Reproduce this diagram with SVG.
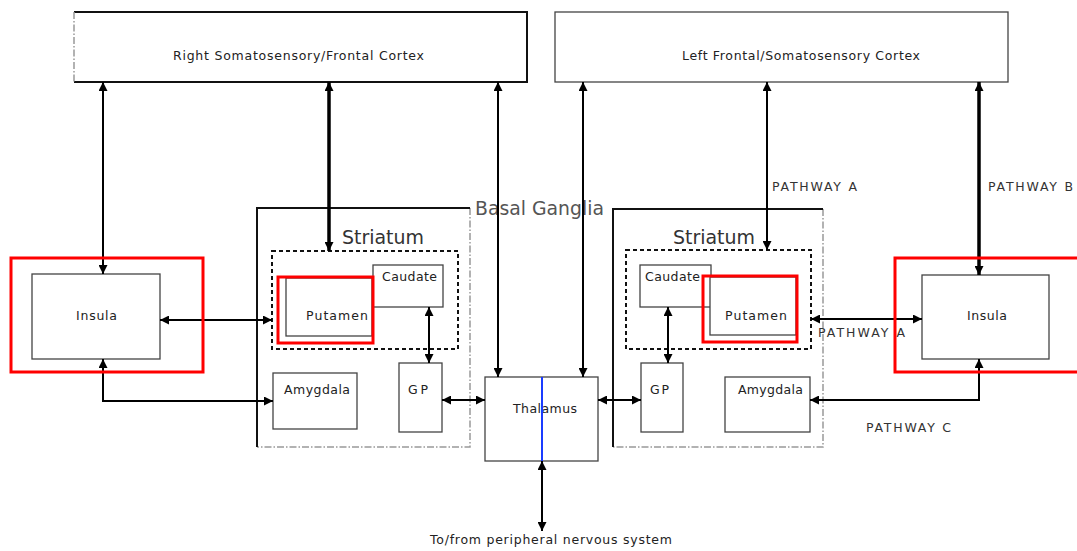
<svg xmlns="http://www.w3.org/2000/svg" width="1077" height="551" viewBox="0 0 1077 551">
<defs>
<marker id="ah" viewBox="0 0 10 10" refX="10" refY="5" markerWidth="9" markerHeight="9" markerUnits="userSpaceOnUse" orient="auto-start-reverse">
<path d="M0,0 L10,5 L0,10 z" fill="#000"/>
</marker>
<style>
text{font-family:"DejaVu Sans","Liberation Sans",sans-serif;fill:#222;}
.s{font-size:12.5px;}
.big{font-size:19px;fill:#333;}
.bg{font-size:19px;fill:#555;}
.pw{font-size:12.5px;fill:#333;}
.box{fill:#fff;stroke:#444;stroke-width:1.3;}
.solid{fill:none;stroke:#111;stroke-width:2;}
.dd{fill:none;stroke:#999;stroke-width:1.5;stroke-dasharray:7,2,1.5,2;}
.dash{fill:none;stroke:#111;stroke-width:2;stroke-dasharray:4,3;}
.red{fill:none;stroke:#ff0000;stroke-width:3;}
.ar{fill:none;stroke:#000;stroke-width:2;marker-start:url(#ah);marker-end:url(#ah);}
.th{stroke-width:3.5;}
</style>
</defs>
<rect width="1077" height="551" fill="#fff"/>

<g id="cortex-right">
<rect x="74" y="12" width="453" height="70" fill="#fff" stroke="none"/>
<path d="M74,12 H527 V82 H74" class="solid"/>
<path d="M74,12 V82" class="dd"/>
<text class="s" x="173" y="60" textLength="251" lengthAdjust="spacing">Right Somatosensory/Frontal Cortex</text>
</g>

<g id="cortex-left">
<rect x="555" y="12" width="453" height="70" class="box" stroke-width="1.6"/>
<text class="s" x="682" y="60" textLength="238" lengthAdjust="spacing">Left Frontal/Somatosensory Cortex</text>
</g>

<g id="basal-ganglia-left">
<path d="M470,208 V447 H257" class="dd"/>
<path d="M257,447 V208 H470" class="solid"/>
</g>
<g id="basal-ganglia-right">
<path d="M823,209 V447 H613" class="dd"/>
<path d="M613,447 V209 H823" class="solid" stroke-width="2.5"/>
</g>
<text id="basal-ganglia-label" class="bg" x="475" y="215" textLength="129" lengthAdjust="spacingAndGlyphs">Basal Ganglia</text>

<g id="striatum-left">
<rect x="272" y="251" width="186" height="98" class="dash"/>
<text class="big" x="342" y="244" textLength="82" lengthAdjust="spacingAndGlyphs">Striatum</text>
</g>
<g id="striatum-right">
<rect x="626" y="250" width="185" height="99" class="dash"/>
<text class="big" x="673" y="244" textLength="82" lengthAdjust="spacingAndGlyphs">Striatum</text>
</g>

<g id="insula-left">
<rect x="32" y="274" width="128" height="85" class="box"/>
<text class="s" x="76" y="320" textLength="41" lengthAdjust="spacing">Insula</text>
</g>
<g id="insula-right">
<rect x="922" y="275" width="127" height="84" class="box"/>
<text class="s" x="967" y="320" textLength="40" lengthAdjust="spacing">Insula</text>
</g>

<g id="caudate-left">
<rect x="373" y="265" width="70" height="42" class="box"/>
<text class="s" x="382" y="281" textLength="55" lengthAdjust="spacing">Caudate</text>
</g>
<g id="caudate-right">
<rect x="640" y="265" width="71" height="42" class="box"/>
<text class="s" x="645" y="281" textLength="55" lengthAdjust="spacing">Caudate</text>
</g>

<g id="putamen-left">
<rect x="286" y="278" width="86" height="58" class="box"/>
<text class="s" x="306" y="320" textLength="62" lengthAdjust="spacing">Putamen</text>
</g>
<g id="putamen-right">
<rect x="710" y="277" width="86" height="58" class="box"/>
<text class="s" x="725" y="320" textLength="62" lengthAdjust="spacing">Putamen</text>
</g>

<g id="amygdala-left">
<rect x="273" y="373" width="84" height="56" class="box"/>
<text class="s" x="284" y="394" textLength="66" lengthAdjust="spacing">Amygdala</text>
</g>
<g id="amygdala-right">
<rect x="725" y="377" width="85" height="55" class="box"/>
<text class="s" x="738" y="394" textLength="65" lengthAdjust="spacing">Amygdala</text>
</g>

<g id="gp-left">
<rect x="399" y="363" width="43" height="69" class="box"/>
<text class="s" x="408" y="394" textLength="20" lengthAdjust="spacing">GP</text>
</g>
<g id="gp-right">
<rect x="641" y="363" width="42" height="69" class="box"/>
<text class="s" x="650" y="394" textLength="19" lengthAdjust="spacing">GP</text>
</g>

<g id="thalamus">
<rect x="485" y="377" width="113" height="84" class="box"/>
<text class="s" x="513" y="413" textLength="64" lengthAdjust="spacing">Thalamus</text>
<line x1="542" y1="377" x2="542" y2="461" stroke="#1a3cff" stroke-width="2"/>
</g>

<g id="pathway-labels">
<text class="pw" x="772" y="191" textLength="85" lengthAdjust="spacing">PATHWAY A</text>
<text class="pw" x="988" y="191" textLength="85" lengthAdjust="spacing">PATHWAY B</text>
<text class="pw" x="818" y="337" textLength="87" lengthAdjust="spacing">PATHWAY A</text>
<text class="pw" x="866" y="432" textLength="85" lengthAdjust="spacing">PATHWAY C</text>
<text class="s" x="430" y="544" textLength="242" lengthAdjust="spacing">To/from peripheral nervous system</text>
</g>

<g id="connectors">
<line x1="103" y1="82" x2="103" y2="274" class="ar"/>
<line x1="329" y1="82" x2="329" y2="251" class="ar th"/>
<line x1="498" y1="82" x2="498" y2="377" class="ar"/>
<line x1="583" y1="82" x2="583" y2="377" class="ar"/>
<line x1="767" y1="82" x2="767" y2="250" class="ar"/>
<line x1="979" y1="82" x2="979" y2="275" class="ar th"/>
<line x1="160" y1="320" x2="272" y2="320" class="ar"/>
<line x1="811" y1="319" x2="922" y2="319" class="ar"/>
<path d="M103,359 V401 H273" class="ar"/>
<path d="M979,359 V400 H810" class="ar"/>
<line x1="429" y1="307" x2="429" y2="363" class="ar"/>
<line x1="668" y1="307" x2="668" y2="363" class="ar"/>
<line x1="442" y1="400" x2="485" y2="400" class="ar"/>
<line x1="598" y1="400" x2="641" y2="400" class="ar"/>
<line x1="542" y1="461" x2="542" y2="531" class="ar"/>
</g>

<g id="highlights">
<rect x="11" y="258" width="192" height="114" class="red"/>
<rect x="278" y="277" width="95" height="66" class="red"/>
<rect x="703" y="276" width="94" height="66" class="red"/>
<rect x="895" y="258" width="190" height="114" class="red"/>
</g>
</svg>
